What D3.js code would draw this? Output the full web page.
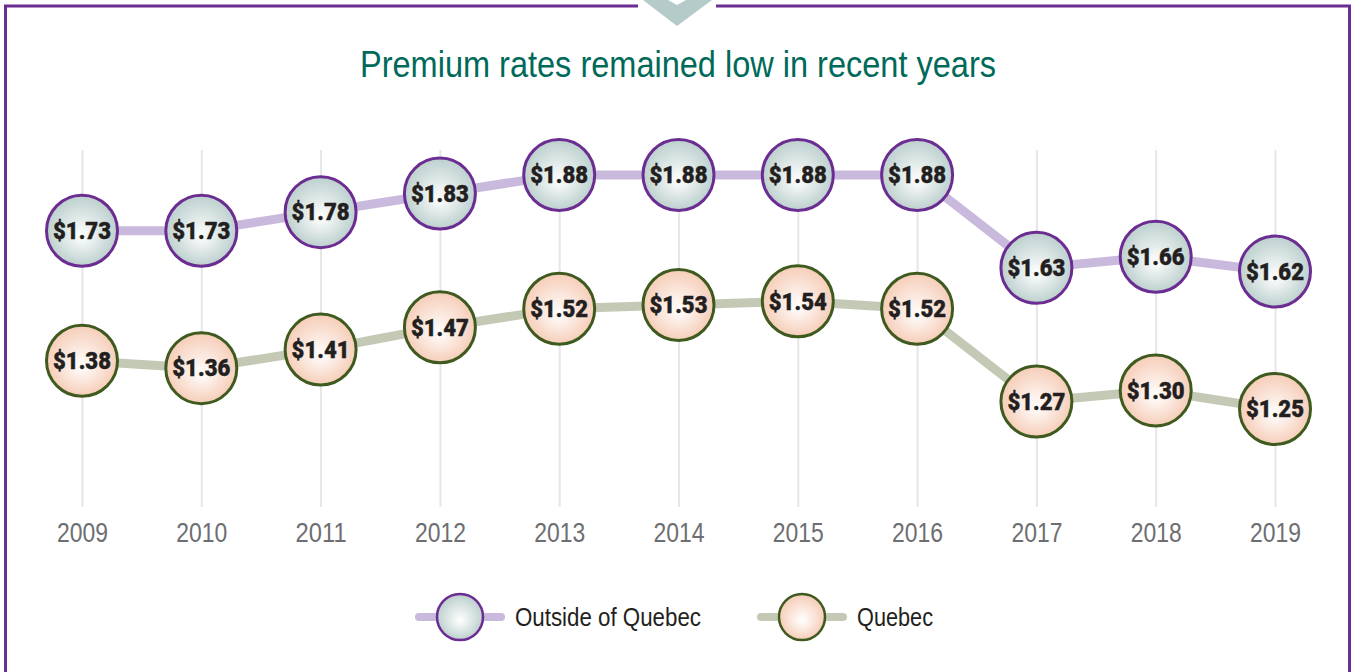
<!DOCTYPE html>
<html>
<head>
<meta charset="utf-8">
<script src="https://cdn.jsdelivr.net/npm/d3@7"></script>
<style>
  html, body { margin: 0; padding: 0; background: #fff; }
  svg { display: block; }
</style>
</head>
<body>
<div id="chart"></div>
<script>
const years = ["2009", "2010", "2011", "2012", "2013", "2014", "2015", "2016", "2017", "2018", "2019"];
const outsideQuebec = [1.73, 1.73, 1.78, 1.83, 1.88, 1.88, 1.88, 1.88, 1.63, 1.66, 1.62];
const quebec = [1.38, 1.36, 1.41, 1.47, 1.52, 1.53, 1.54, 1.52, 1.27, 1.30, 1.25];
const seriesNames = ["Outside of Quebec", "Quebec"];

const w = 1351;
const h = 672;
// no narrow font installed, so texts get squeezed with textLength
const font = "'Liberation Sans', Arial, sans-serif";

const svg = d3.select("#chart").append("svg")
  .attr("width", w)
  .attr("height", h);

const defs = svg.append("defs");

function gradient(id, edge) {
  const g = defs.append("radialGradient")
    .attr("id", id)
    .attr("cx", "50%").attr("cy", "50%").attr("r", "50%")
    .attr("fx", "50%").attr("fy", "58%");
  g.append("stop").attr("offset", "0%").attr("stop-color", "#ffffff");
  g.append("stop").attr("offset", "100%").attr("stop-color", edge);
}
gradient("gOut", "#bcd0ce");
gradient("gQc", "#f6cdb8");

const series = [
  { name: seriesNames[0], values: outsideQuebec, line: "#c8b9dd", stroke: "#6b2d91", fill: "url(#gOut)", textLen: 186 },
  { name: seriesNames[1], values: quebec, line: "#c4c9b5", stroke: "#3f5a1f", fill: "url(#gQc)", textLen: 76 }
];

// frame
svg.append("path")
  .attr("d", "M5.5," + h + " V6 H638 M716,6 H1349.5 V" + h)
  .attr("fill", "none")
  .attr("stroke", "#6b2d91")
  .attr("stroke-width", 3);

svg.append("path")
  .attr("d", "M643,0 L668,0 L677,5 L686,0 L712,0 L677,26 Z")
  .attr("fill", "#b5cbc9");

svg.append("text")
  .attr("x", 360)
  .attr("y", 77)
  .attr("textLength", 636)
  .attr("lengthAdjust", "spacingAndGlyphs")
  .style("font-family", font)
  .style("font-size", "36px")
  .style("fill", "#006a5a")
  .text("Premium rates remained low in recent years");

const xScale = d3.scalePoint()
  .domain(years)
  .range([82, 1275]);

const yScale = d3.scaleLinear()
  .domain([1.25, 1.88])
  .range([409, 175]);

// gridlines + year labels
const axisY = 507;
svg.append("g")
  .attr("transform", "translate(0," + axisY + ")")
  .call(d3.axisBottom(xScale).tickSize(-(axisY - 150)).tickPadding(16))
  .call(g => g.select(".domain").remove())
  .call(g => g.selectAll(".tick line")
    .attr("stroke", "#e6e6e6")
    .attr("stroke-width", 2))
  .call(g => g.selectAll(".tick text")
    .attr("fill", "#6d6e71")
    .attr("dy", "0.71em")
    .attr("textLength", 51)
    .attr("lengthAdjust", "spacingAndGlyphs")
    .style("font-family", font)
    .style("font-size", "27px"));

const line = d3.line()
  .x((d, i) => xScale(years[i]))
  .y(d => yScale(d));

series.forEach(s => {
  svg.append("path")
    .datum(s.values)
    .attr("d", line)
    .attr("fill", "none")
    .attr("stroke", s.line)
    .attr("stroke-width", 9)
    .attr("stroke-linejoin", "round");
});

series.forEach(s => {
  const g = svg.append("g");
  g.selectAll("circle")
    .data(s.values)
    .join("circle")
      .attr("cx", (d, i) => xScale(years[i]))
      .attr("cy", d => yScale(d))
      .attr("r", 35.5)
      .attr("fill", s.fill)
      .attr("stroke", s.stroke)
      .attr("stroke-width", 3);
  g.selectAll("text")
    .data(s.values)
    .join("text")
      .attr("x", (d, i) => xScale(years[i]))
      .attr("y", d => yScale(d))
      .attr("dy", "0.36em")
      .attr("text-anchor", "middle")
      .attr("textLength", 58)
      .attr("lengthAdjust", "spacingAndGlyphs")
      .style("font-family", "Roboto, " + font)
      .style("font-weight", 900)
      .style("font-size", "23px")
      .style("fill", "#231f20")
      .style("stroke", "#231f20")
      .style("stroke-width", 0.4)
      .text(d => "$" + d.toFixed(2));
});

// legend
const legend = [
  { s: series[0], cx: 460 },
  { s: series[1], cx: 802 }
];
legend.forEach(l => {
  const g = svg.append("g").attr("transform", "translate(" + l.cx + ",617)");
  g.append("line")
    .attr("x1", -41).attr("x2", 41)
    .attr("stroke", l.s.line)
    .attr("stroke-width", 8)
    .attr("stroke-linecap", "round");
  g.append("circle")
    .attr("r", 23)
    .attr("fill", l.s.fill)
    .attr("stroke", l.s.stroke)
    .attr("stroke-width", 2.5);
  g.append("text")
    .attr("x", 55)
    .attr("dy", "0.36em")
    .attr("textLength", l.s.textLen)
    .attr("lengthAdjust", "spacingAndGlyphs")
    .style("font-family", font)
    .style("font-size", "25px")
    .style("fill", "#231f20")
    .text(l.s.name);
});
</script>
</body>
</html>
